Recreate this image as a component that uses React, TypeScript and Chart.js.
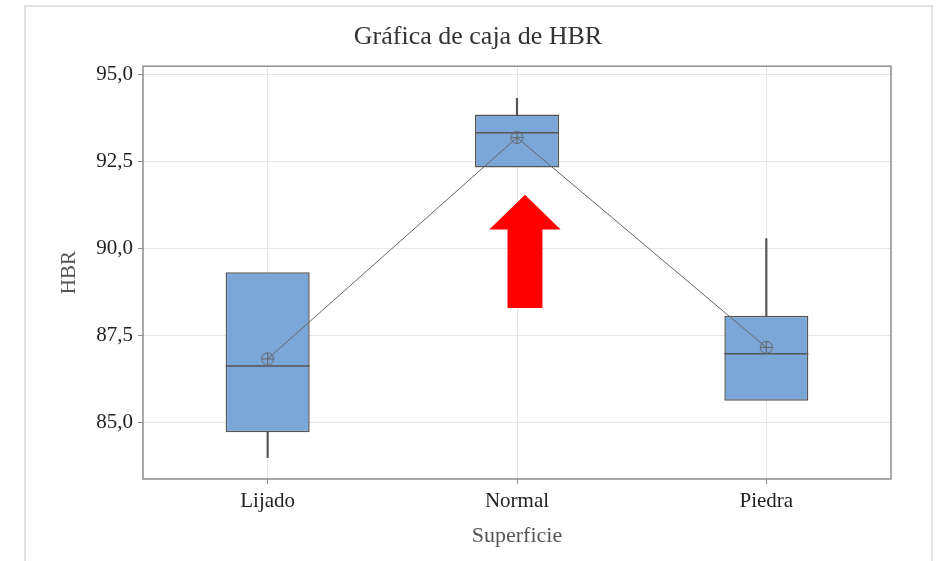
import React, { useEffect, useRef } from 'react';
import { Chart, registerables } from 'chart.js';

Chart.register(...registerables);

// ---- data ----
const categories = ['Lijado', 'Normal', 'Piedra'];
const minValues = [83.99, 92.33, 85.63];
const q1Values = [84.72, 92.33, 85.63];
const medianValues = [86.63, 93.33, 86.98];
const q3Values = [89.32, 93.85, 88.07];
const maxValues = [89.32, 94.32, 90.29];
const meanValues = [86.83, 93.19, 87.16];
const yTickValues = [85, 87.5, 90, 92.5, 95];
const yMin = 83.38;
const yMax = 95.24;
// red arrow annotation (category index / data units)
const arrowX = 1.032;
const arrowTip = 91.55;
const arrowHeadBase = 90.55;
const arrowTail = 88.29;
const arrowHeadHalf = 0.143;
const arrowShaftHalf = 0.07;

const FONT = "'Liberation Serif', 'Times New Roman', serif";

function makeMeanMarker(): HTMLCanvasElement {
  const c = document.createElement('canvas');
  const s = 15;
  c.width = s;
  c.height = s;
  const ctx = c.getContext('2d')!;
  ctx.strokeStyle = '#666';
  ctx.lineWidth = 1;
  ctx.beginPath();
  ctx.arc(7.5, 7.5, 6, 0, Math.PI * 2);
  ctx.stroke();
  ctx.beginPath();
  ctx.moveTo(7.5, 1.5);
  ctx.lineTo(7.5, 13.5);
  ctx.moveTo(1.5, 7.5);
  ctx.lineTo(13.5, 7.5);
  ctx.stroke();
  return c;
}

const framePlugin = {
  id: 'plotFrame',
  afterDatasetsDraw(chart: any) {
    const { ctx, chartArea: a } = chart;
    ctx.save();
    ctx.strokeStyle = '#8c8c8c';
    ctx.lineWidth = 1.5;
    ctx.strokeRect(a.left, a.top, a.right - a.left, a.bottom - a.top);
    ctx.restore();
  },
};

const arrowPlugin = {
  id: 'redArrow',
  afterDatasetsDraw(chart: any) {
    const { ctx } = chart;
    const xs = chart.scales.x;
    const ys = chart.scales.y;
    const px = (v: number) => xs.getPixelForValue(v);
    const py = (v: number) => ys.getPixelForValue(v);
    ctx.save();
    ctx.fillStyle = '#ff0000';
    ctx.beginPath();
    ctx.moveTo(px(arrowX), py(arrowTip));
    ctx.lineTo(px(arrowX + arrowHeadHalf), py(arrowHeadBase));
    ctx.lineTo(px(arrowX + arrowShaftHalf), py(arrowHeadBase));
    ctx.lineTo(px(arrowX + arrowShaftHalf), py(arrowTail));
    ctx.lineTo(px(arrowX - arrowShaftHalf), py(arrowTail));
    ctx.lineTo(px(arrowX - arrowShaftHalf), py(arrowHeadBase));
    ctx.lineTo(px(arrowX - arrowHeadHalf), py(arrowHeadBase));
    ctx.closePath();
    ctx.fill();
    ctx.restore();
  },
};

export default function App() {
  const ref = useRef<HTMLCanvasElement | null>(null);

  useEffect(() => {
    if (!ref.current) return;
    const boxFill = '#7ba6d8';
    const edge = '#555555';
    const boxPct = 0.337;
    const chart = new Chart(ref.current, {
      type: 'bar',
      data: {
        labels: categories,
        datasets: [
          {
            type: 'line',
            label: 'Media',
            data: meanValues,
            borderColor: '#666666',
            borderWidth: 1,
            pointStyle: makeMeanMarker() as any,
            pointRadius: 7,
            fill: false,
            order: 0,
          } as any,
          {
            type: 'line',
            label: 'Mediana',
            data: medianValues,
            showLine: false,
            pointStyle: 'line',
            pointRadius: 42,
            pointBorderWidth: 1.5,
            pointBorderColor: edge,
            pointBackgroundColor: edge,
            order: 1,
          } as any,
          {
            label: 'Caja',
            data: categories.map((_, i) => [q1Values[i], q3Values[i]]),
            backgroundColor: boxFill,
            borderColor: edge,
            borderWidth: 1.5,
            borderSkipped: false,
            grouped: false,
            barPercentage: boxPct,
            categoryPercentage: 1,
            order: 2,
          } as any,
          {
            label: 'Bigote inferior',
            data: categories.map((_, i) => (minValues[i] < q1Values[i] ? [minValues[i], q1Values[i]] : null)),
            backgroundColor: edge,
            borderWidth: 0,
            grouped: false,
            barThickness: 1.5,
            order: 3,
          } as any,
          {
            label: 'Bigote superior',
            data: categories.map((_, i) => (maxValues[i] > q3Values[i] ? [q3Values[i], maxValues[i]] : null)),
            backgroundColor: edge,
            borderWidth: 0,
            grouped: false,
            barThickness: 1.5,
            order: 3,
          } as any,
        ],
      },
      options: {
        responsive: false,
        animation: false,
        devicePixelRatio: 1,
        layout: { padding: { left: 65, right: 45, top: 0, bottom: 0 } },
        plugins: {
          legend: { display: false },
          tooltip: { enabled: false },
          title: {
            display: true,
            text: 'Gráfica de caja de HBR',
            color: '#333333',
            font: { family: FONT, size: 26, weight: 'normal' },
            padding: { top: 22, bottom: 13 },
          },
        },
        scales: {
          x: {
            type: 'category',
            offset: true,
            grid: {
              offset: false,
              color: '#e6e6e6',
              lineWidth: 1,
              tickLength: 5,
              tickColor: '#8c8c8c',
              drawTicks: true,
            },
            border: { display: false },
            ticks: {
              padding: 5,
              color: '#222222',
              font: { family: FONT, size: 21 },
              maxRotation: 0,
            },
            title: {
              display: true,
              text: 'Superficie',
              color: '#555555',
              font: { family: FONT, size: 22 },
              padding: { top: 0, bottom: 12 },
            },
            afterFit: (s: any) => {
              s.height = 82;
            },
          },
          y: {
            type: 'linear',
            min: yMin,
            max: yMax,
            afterBuildTicks: (s: any) => {
              s.ticks = yTickValues.map((v) => ({ value: v }));
            },
            grid: {
              color: '#e6e6e6',
              lineWidth: 1,
              tickLength: 5,
              tickColor: '#8c8c8c',
              drawTicks: true,
            },
            border: { display: false },
            ticks: {
              padding: 5,
              color: '#222222',
              font: { family: FONT, size: 21 },
              callback: (v: any) => Number(v).toFixed(1).replace('.', ','),
            },
            title: {
              display: true,
              text: 'HBR',
              color: '#555555',
              font: { family: FONT, size: 21 },
              padding: { top: -8, bottom: 0 },
            },
            afterFit: (s: any) => {
              s.width = 78;
            },
          },
        },
      } as any,
      plugins: [framePlugin, arrowPlugin],
    });
    return () => chart.destroy();
  }, []);

  return (
    <div style={{ position: 'relative', width: 936, height: 561, overflow: 'hidden', background: '#ffffff' }}>
      <style>{`body{margin:0;}`}</style>
      <div
        style={{
          position: 'absolute',
          left: 24,
          top: 5,
          width: 905,
          height: 600,
          border: '2px solid #e2e2e2',
          boxSizing: 'content-box',
        }}
      />
      <canvas ref={ref} width={936} height={561} style={{ position: 'absolute', left: 0, top: 0, width: 936, height: 561 }} />
    </div>
  );
}
